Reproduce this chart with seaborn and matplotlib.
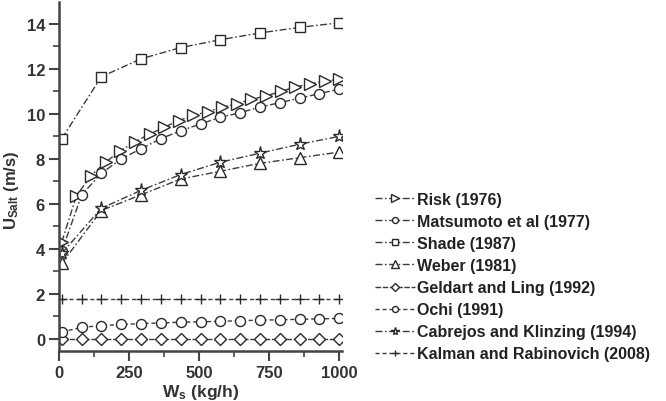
import matplotlib
matplotlib.use("Agg")
import matplotlib.pyplot as plt
import seaborn as sns
import pandas as pd

# ---- data ----
x_dense = [10, 62, 114, 166, 218, 270, 323, 375, 427, 479,
           531, 583, 635, 687, 739, 792, 844, 896, 948, 1000]
x_mid = [10, 81, 151, 222, 293, 364, 434, 505, 576, 646, 717, 788, 859, 929, 1000]
x_sparse = [10, 151, 293, 434, 576, 717, 859, 1000]

risk = [4.3, 6.35, 7.25, 7.85, 8.35, 8.75, 9.1, 9.4, 9.7, 9.93,
        10.1, 10.3, 10.45, 10.65, 10.8, 11.0, 11.2, 11.33, 11.45, 11.55]
matsumoto = [3.9, 6.4, 7.35, 8.0, 8.45, 8.9, 9.25, 9.55, 9.85, 10.05,
             10.3, 10.5, 10.7, 10.9, 11.1]
shade = [8.9, 11.65, 12.45, 12.95, 13.3, 13.6, 13.85, 14.05]
weber = [3.35, 5.7, 6.4, 7.1, 7.45, 7.8, 8.05, 8.3]
geldart = [0.0, 0.0, 0.0, 0.0, 0.0, 0.0, 0.0, 0.0, 0.0, 0.0, 0.0, 0.0, 0.0, 0.0, 0.0]
ochi = [0.3, 0.5, 0.58, 0.63, 0.67, 0.7, 0.73, 0.75, 0.77, 0.8, 0.82, 0.84, 0.86, 0.88, 0.9]
cabrejos = [3.8, 5.8, 6.6, 7.3, 7.85, 8.25, 8.65, 9.0]
kalman = [1.75, 1.75, 1.75, 1.75, 1.75, 1.75, 1.75, 1.75, 1.75, 1.75, 1.75, 1.75, 1.75, 1.75, 1.75]

labels = ["Risk (1976)", "Matsumoto et al (1977)", "Shade (1987)", "Weber (1981)",
          "Geldart and Ling (1992)", "Ochi (1991)", "Cabrejos and Klinzing (1994)",
          "Kalman and Rabinovich (2008)"]
xticks = [0, 250, 500, 750, 1000]
yticks = [0, 2, 4, 6, 8, 10, 12, 14]

sns.set_style("ticks")
plt.rcParams["font.family"] = ["Liberation Sans", "DejaVu Sans"]
plt.rcParams["mathtext.default"] = "regular"

fig = plt.figure(figsize=(6.66, 4.02), dpi=100)
ax = fig.add_axes([59 / 666, 50 / 402, 283 / 666, 349.5 / 402])

LC = "#3c3c3c"
dashdot = (0, (5, 1.8, 1.2, 1.8))
series = [
    (x_dense, risk, ">", 8.5, dashdot),
    (x_mid, matsumoto, "o", 7.2, dashdot),
    (x_sparse, shade, "s", 7.0, dashdot),
    (x_sparse, weber, "^", 8.5, dashdot),
    (x_mid, geldart, "D", 6.6, (0, (4, 1.2))),
    (x_mid, ochi, "o", 7.2, (0, (3, 2))),
    (x_sparse, cabrejos, "*", 9.5, dashdot),
    (x_mid, kalman, "+", 7.5, (0, (3, 2))),
]

for (xs, ys, mk, ms, ls), lab in zip(series, labels):
    df = pd.DataFrame({"x": xs, "y": ys})
    sns.lineplot(data=df, x="x", y="y", ax=ax, label=lab, color=LC,
                 linestyle=ls, linewidth=1.0, marker=mk, markersize=ms,
                 markerfacecolor="white", markeredgecolor="#2a2a2a",
                 markeredgewidth=1.0, legend=True)

ax.set_xlim(0, 1010)
ax.set_ylim(-0.55, 15)
ax.set_xticks(xticks)
ax.set_yticks(yticks)
ax.set_xticks([125, 375, 625, 875], minor=True)
ax.set_yticks([1, 3, 5, 7, 9, 11, 13], minor=True)
ax.tick_params(axis="both", which="major", direction="out", length=7, width=1.5,
               color="#444444", labelsize=12, pad=3)
ax.tick_params(axis="both", which="minor", direction="out", length=4, width=1.2,
               color="#444444")
for lbl in ax.get_xticklabels() + ax.get_yticklabels():
    lbl.set_fontweight("bold")
    lbl.set_color("#333333")

sns.despine(ax=ax)
for sp in ("left", "bottom"):
    ax.spines[sp].set_linewidth(1.8)
    ax.spines[sp].set_color("#444444")

ax.set_xlabel("W$_s$ (kg/h)", fontsize=12.5, fontweight="bold", color="#333333")
ax.set_ylabel("U$_{Salt}$ (m/s)", fontsize=12, fontweight="bold", color="#333333")
ax.xaxis.set_label_coords(0.5, (352 - 383) / 349.5)
ax.yaxis.set_label_coords((21 - 59) / 283, 0.463)

handles, labs = ax.get_legend_handles_labels()
ax.get_legend().remove()
fig.legend(handles, labs, loc="upper left", bbox_to_anchor=(375 / 666, 1 - 193 / 402),
           frameon=False, handlelength=2.5, handletextpad=0.1, labelspacing=0.44,
           borderpad=0, borderaxespad=0, markerscale=0.6,
           prop={"size": 11.5, "weight": "bold"}, labelcolor="#222222")

fig.savefig("out.png", dpi=100)
